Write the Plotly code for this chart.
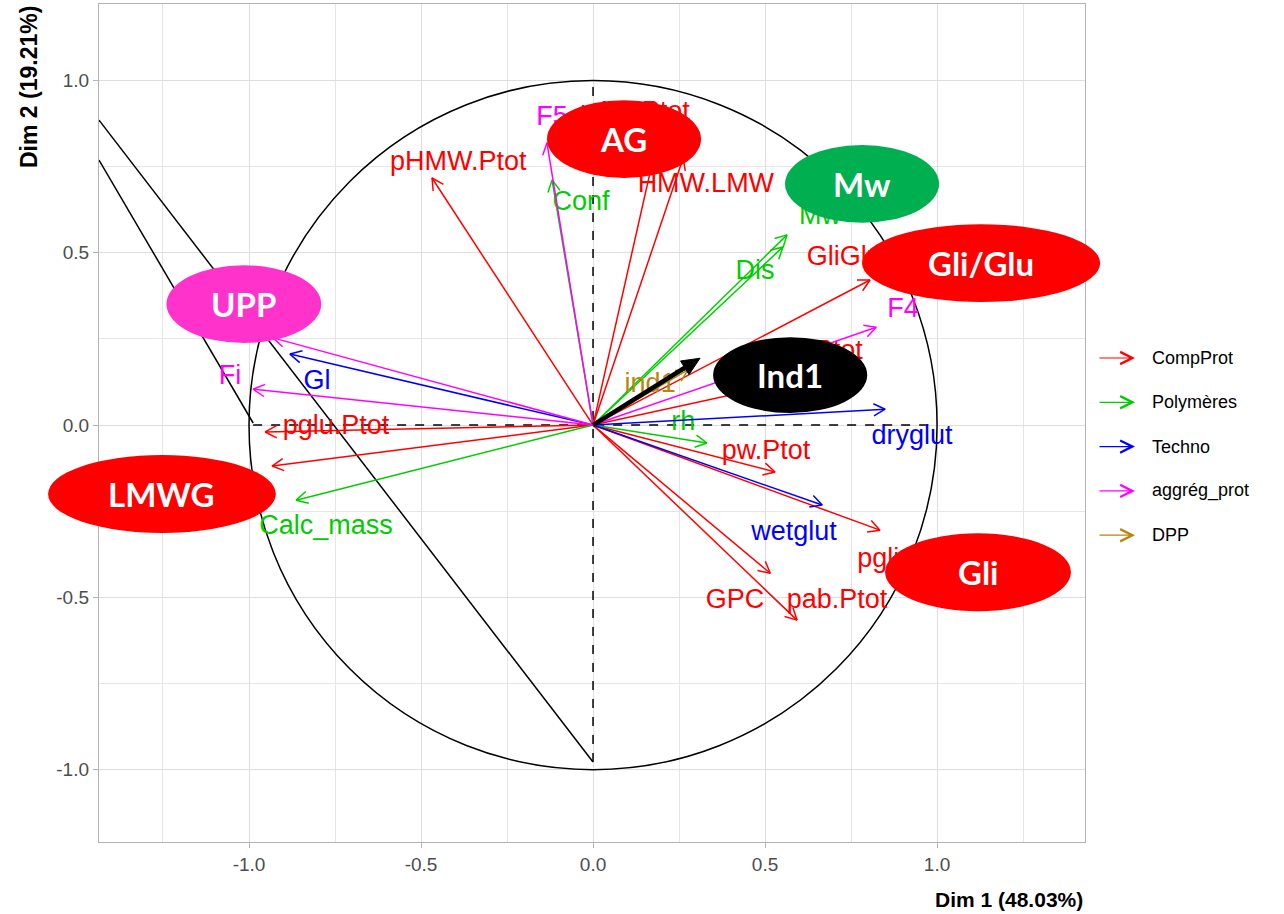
import numpy as np
import plotly.graph_objects as go

# variable coordinates (Dim 1, Dim 2)
comp_names = ["pHMW.Ptot", "pAG.Ptot", "HMW.LMW", "GliGlu", "pg.Ptot", "pglu.Ptot",
              "pLMW.Ptot", "pw.Ptot", "pgli.Ptot", "GPC", "pab.Ptot"]
comp_x = [-0.468, 0.190, 0.262, 0.805, 0.602, -0.953, -0.933, 0.529, 0.834, 0.515, 0.593]
comp_y = [0.717, 0.840, 0.775, 0.421, 0.131, -0.020, -0.119, -0.136, -0.305, -0.430, -0.566]

poly_names = ["Conf", "Mw", "Dis", "rh", "Calc_mass"]
poly_x = [-0.119, 0.564, 0.552, 0.331, -0.863]
poly_y = [0.711, 0.552, 0.517, -0.052, -0.218]

techno_names = ["Gl", "dryglut", "wetglut"]
techno_x = [-0.881, 0.849, 0.666]
techno_y = [0.206, 0.046, -0.232]

aggreg_names = ["F5", "F4", "Fi", "F1"]
aggreg_x = [-0.134, 0.823, -0.988, -0.930]
aggreg_y = [0.819, 0.284, 0.104, 0.253]

dpp_names = ["ind1"]
dpp_x = [0.276]
dpp_y = [0.160]

# black supplementary arrow
ind1_x = [0.311]
ind1_y = [0.194]

# reference lines
line_a_x = [-1.436, 0.0]
line_a_y = [0.885, -0.978]
line_b_x = [-1.436, -0.988]
line_b_y = [0.769, 0.006]
hline_x = [-0.988, 1.0]
hline_y = [0.0, 0.0]
vline_x = [0.0, 0.0]
vline_y = [-0.978, 1.0]

xticks = [-1.0, -0.5, 0.0, 0.5, 1.0]
yticks = [-1.0, -0.5, 0.0, 0.5, 1.0]

# repelled label positions (labels fully hidden under the blobs are left out)
label_pos = {
    "pHMW.Ptot": (-0.392, 0.760), "pAG.Ptot": (0.122, 0.906), "HMW.LMW": (0.328, 0.697),
    "GliGlu": (0.730, 0.485), "pg.Ptot": (0.660, 0.212), "pglu.Ptot": (-0.747, -0.006),
    "pw.Ptot": (0.503, -0.078), "pgli.Ptot": (0.910, -0.392),
    "GPC": (0.413, -0.511), "pab.Ptot": (0.709, -0.511),
    "Conf": (-0.035, 0.644), "Mw": (0.660, 0.603), "Dis": (0.471, 0.444),
    "rh": (0.262, 0.006), "Calc_mass": (-0.776, -0.296),
    "Gl": (-0.802, 0.125), "dryglut": (0.927, -0.035), "wetglut": (0.584, -0.313),
    "F5": (-0.119, 0.891), "F4": (0.901, 0.334), "Fi": (-1.055, 0.139),
    "ind1": (0.166, 0.116),
}

groups = [
    ("CompProt", "#FF0000", comp_names, comp_x, comp_y),
    ("Polymères", "#00CD00", poly_names, poly_x, poly_y),
    ("Techno", "#0000FF", techno_names, techno_x, techno_y),
    ("aggrég_prot", "#FF00FF", aggreg_names, aggreg_x, aggreg_y),
    ("DPP", "#B8860B", dpp_names, dpp_x, dpp_y),
]

# group blobs: text, colour, centre x, centre y, half width, half height (data units)
blobs = [
    ("AG", "#FF0000", 0.090, 0.830, 0.224, 0.113),
    ("Mw", "#00B050", 0.782, 0.700, 0.224, 0.113),
    ("Gli/Glu", "#FF0000", 1.128, 0.470, 0.346, 0.113),
    ("UPP", "#FF33CC", -1.015, 0.351, 0.225, 0.113),
    ("Ind1", "#000000", 0.573, 0.145, 0.224, 0.110),
    ("LMWG", "#FF0000", -1.253, -0.200, 0.331, 0.113),
    ("Gli", "#FF0000", 1.119, -0.427, 0.270, 0.113),
]

W, H = 1284, 914
ML, MR, MT, MB = 99, 199, 4, 72
XR = [-1.436, 1.430]
YR = [-1.210, 1.222]
SX = (W - ML - MR) / (XR[1] - XR[0])
SY = (H - MT - MB) / (YR[1] - YR[0])
FONT = "Liberation Sans, Arial, sans-serif"


def arrow_lines(xs, ys, head=13, angle=28):
    px, py = [], []
    a = np.radians(angle)
    for x, y in zip(xs, ys):
        dx, dy = x * SX, y * SY
        n = np.hypot(dx, dy)
        bx, by = -dx / n, -dy / n
        arms = []
        for s in (a, -a):
            rx = bx * np.cos(s) - by * np.sin(s)
            ry = bx * np.sin(s) + by * np.cos(s)
            arms.append((x + head * rx / SX, y + head * ry / SY))
        px += [0, x, None, arms[0][0], x, arms[1][0], None]
        py += [0, y, None, arms[0][1], y, arms[1][1], None]
    return px, py


fig = go.Figure()

fig.add_trace(go.Scatter(x=line_a_x, y=line_a_y, mode="lines", line=dict(color="black", width=1.5),
                         showlegend=False, hoverinfo="skip"))
fig.add_trace(go.Scatter(x=line_b_x, y=line_b_y, mode="lines", line=dict(color="black", width=1.5),
                         showlegend=False, hoverinfo="skip"))
fig.add_trace(go.Scatter(x=hline_x, y=hline_y, mode="lines", line=dict(color="black", width=1.5, dash="dash"),
                         showlegend=False, hoverinfo="skip"))
fig.add_trace(go.Scatter(x=vline_x, y=vline_y, mode="lines", line=dict(color="black", width=1.5, dash="dash"),
                         showlegend=False, hoverinfo="skip"))

for name, col, names, xs, ys in groups:
    ax_, ay_ = arrow_lines(xs, ys)
    fig.add_trace(go.Scatter(x=ax_, y=ay_, mode="lines", line=dict(color=col, width=1.5),
                             name=name, showlegend=False, hoverinfo="skip"))
    shown = [n for n in names if n in label_pos]
    fig.add_trace(go.Scatter(x=[label_pos[n][0] for n in shown], y=[label_pos[n][1] for n in shown],
                             mode="text", text=shown, textposition="middle center",
                             textfont=dict(family=FONT, size=27, color=col),
                             showlegend=False, hoverinfo="skip", cliponaxis=False))

# thick black arrow with closed head
bx, by = ind1_x[0] * SX, ind1_y[0] * SY
n = np.hypot(bx, by)
ux, uy = bx / n, by / n
head, half = 18, 8
base_x = ind1_x[0] - head * ux / SX
base_y = ind1_y[0] - head * uy / SY
fig.add_trace(go.Scatter(x=[0, base_x], y=[0, base_y], mode="lines", line=dict(color="black", width=4.5),
                         showlegend=False, hoverinfo="skip"))
fig.add_trace(go.Scatter(x=[ind1_x[0], base_x - half * uy / SX, base_x + half * uy / SX, ind1_x[0]],
                         y=[ind1_y[0], base_y + half * ux / SY, base_y - half * ux / SY, ind1_y[0]],
                         mode="lines", fill="toself", fillcolor="black", line=dict(color="black", width=1),
                         showlegend=False, hoverinfo="skip"))

shapes = [dict(type="circle", xref="x", yref="y", x0=-1, y0=-1, x1=1, y1=1,
               line=dict(color="black", width=1.5), layer="between")]
annotations = []


def to_paper_x(v):
    return (v - XR[0]) / (XR[1] - XR[0])


def to_paper_y(v):
    return (v - YR[0]) / (YR[1] - YR[0])


for txt, col, cx, cy, rx, ry in blobs:
    shapes.append(dict(type="circle", xref="paper", yref="paper",
                       x0=to_paper_x(cx - rx), x1=to_paper_x(cx + rx),
                       y0=to_paper_y(cy - ry), y1=to_paper_y(cy + ry),
                       fillcolor=col, line=dict(width=0), layer="above"))
    annotations.append(dict(xref="paper", yref="paper", x=to_paper_x(cx), y=to_paper_y(cy),
                            xanchor="center", yanchor="middle",
                            text="<b>%s</b>" % txt, showarrow=False,
                            font=dict(family="Lato, Open Sans, sans-serif", size=33, color="white")))

# legend drawn by hand (arrow glyphs)
plot_w, plot_h = W - ML - MR, H - MT - MB
for i, (name, col, *_rest) in enumerate(groups):
    py = 358 + 44.3 * i
    yp = (H - MB - py) / plot_h
    annotations.append(dict(xref="paper", yref="paper", x=(1135 - ML) / plot_w, y=yp,
                            ax=-37, ay=0, text="", showarrow=True, arrowhead=5,
                            arrowsize=2, arrowwidth=1.2, arrowcolor=col))
    annotations.append(dict(xref="paper", yref="paper", x=(1150 - ML) / plot_w, y=yp,
                            xanchor="left", yanchor="middle", text=name, showarrow=False,
                            font=dict(family=FONT, size=18, color="black")))

annotations.append(dict(xref="paper", yref="paper", x=1.0, y=(H - MB - 899) / plot_h,
                        xanchor="right", yanchor="middle", text="<b>Dim 1 (48.03%)</b>",
                        showarrow=False, font=dict(family=FONT, size=21, color="black")))
annotations.append(dict(xref="paper", yref="paper", x=(29 - ML) / plot_w, y=1.0,
                        xanchor="center", yanchor="top", text="<b>Dim 2 (19.21%)</b>",
                        textangle=-90, showarrow=False, font=dict(family=FONT, size=23, color="black")))

axis_common = dict(showgrid=True, gridcolor="#DEDEDE", gridwidth=1.3, zeroline=False,
                   showline=True, mirror=True, linecolor="#B3B3B3", linewidth=1.3,
                   ticks="outside", ticklen=5, tickcolor="#B3B3B3", tickwidth=1.2,
                   tickfont=dict(family=FONT, size=19, color="#4D4D4D"),
                   minor=dict(showgrid=True, gridcolor="#E6E6E6", gridwidth=1, dtick=0.25))

fig.update_xaxes(range=XR, tickvals=xticks, ticktext=["%.1f" % v for v in xticks], **axis_common)
fig.update_yaxes(range=YR, tickvals=yticks, ticktext=["%.1f" % v for v in yticks], **axis_common)
fig.update_layout(width=W, height=H, margin=dict(l=ML, r=MR, t=MT, b=MB),
                  plot_bgcolor="white", paper_bgcolor="white", showlegend=False,
                  shapes=shapes, annotations=annotations)

fig.write_html("out.html", config={"displayModeBar": False},
               post_script="document.body.style.margin='0';")
